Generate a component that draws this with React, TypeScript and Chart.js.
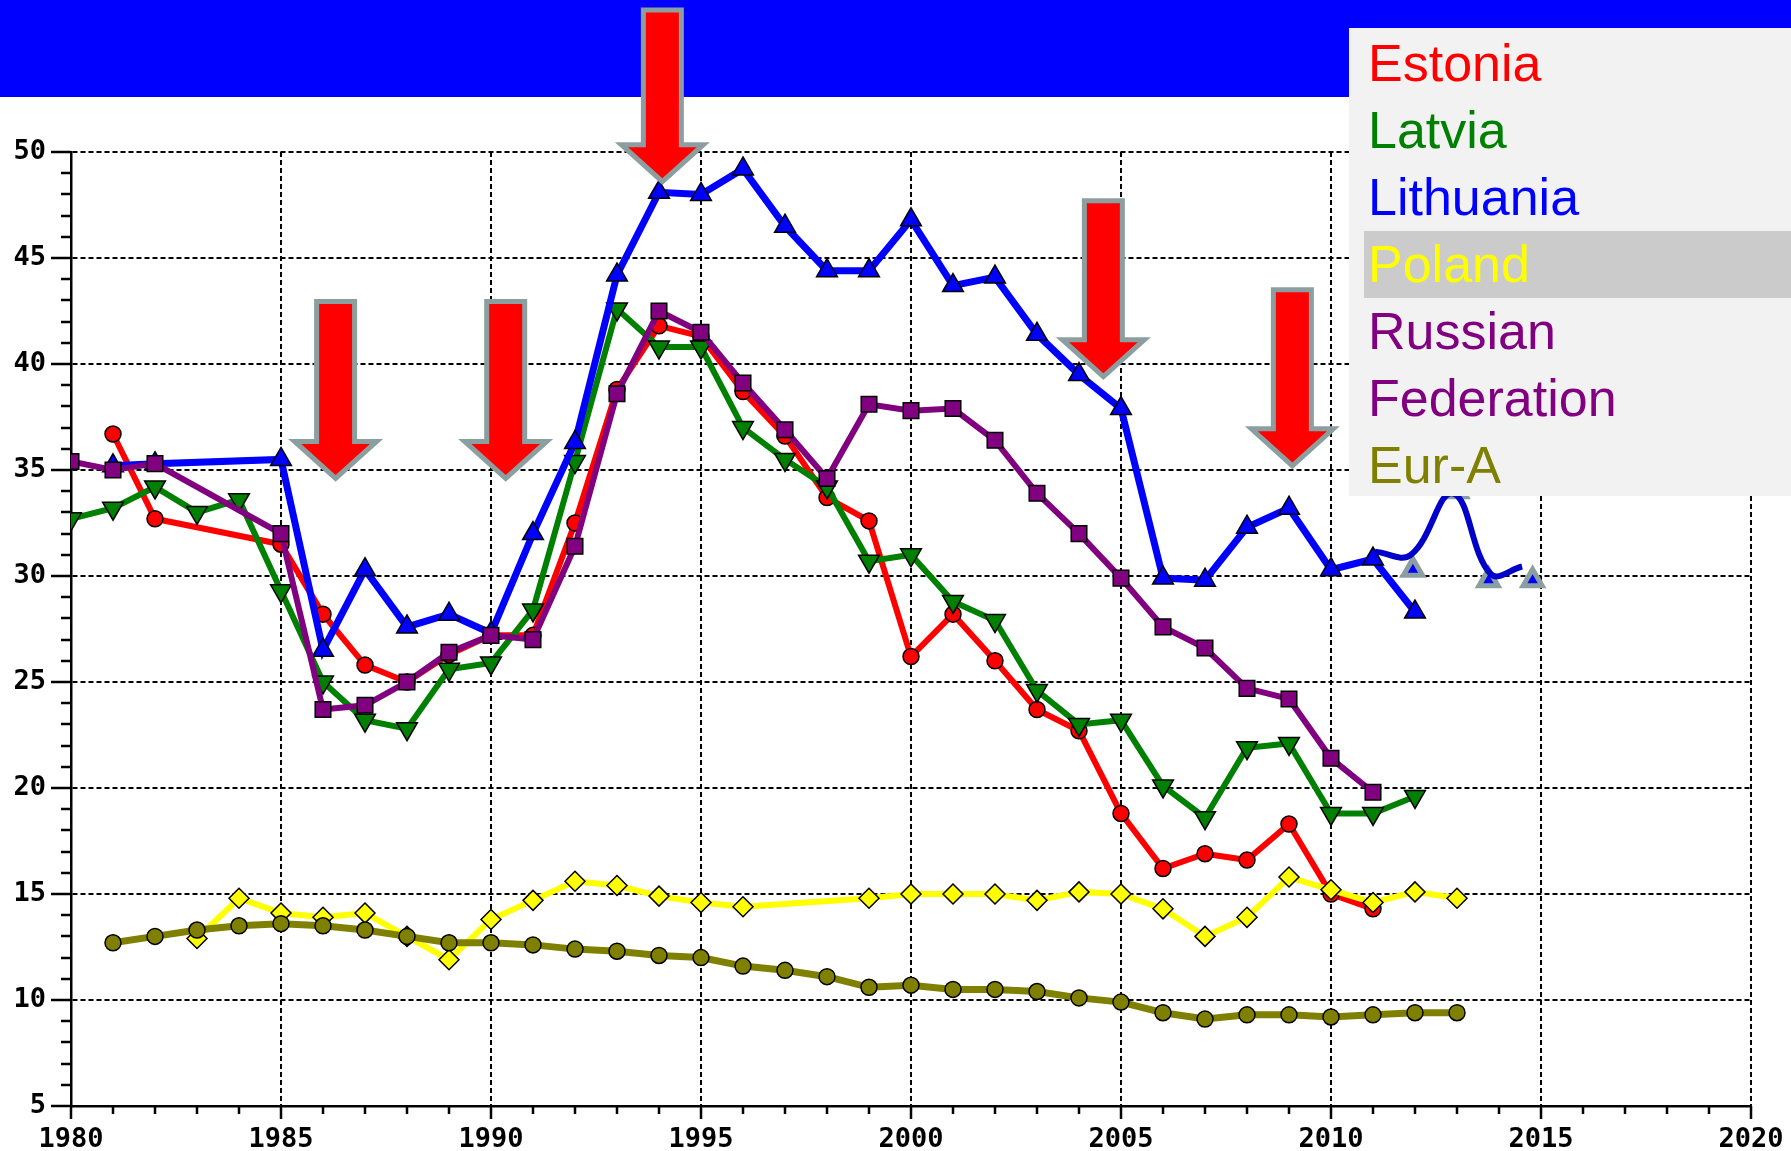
import React, { useEffect, useRef } from 'react';
import { Chart, registerables } from 'chart.js';

Chart.register(...registerables);

const YEARS = [
  1980, 1981, 1982, 1983, 1984, 1985, 1986, 1987, 1988, 1989,
  1990, 1991, 1992, 1993, 1994, 1995, 1996, 1997, 1998, 1999,
  2000, 2001, 2002, 2003, 2004, 2005, 2006, 2007, 2008, 2009,
  2010, 2011, 2012, 2013,
];

const ESTONIA = [
  null, 36.7, 32.7, null, null, 31.5, 28.2, 25.8, 25.0, 26.3,
  27.2, 27.2, 32.5, 38.8, 41.8, 41.3, 38.7, 36.6, 33.7, 32.6,
  26.2, 28.2, 26.0, 23.7, 22.7, 18.8, 16.2, 16.9, 16.6, 18.3,
  15.0, 14.3, null, null,
];

const LATVIA = [
  32.7, 33.2, 34.2, 33.0, 33.6, 29.3, 25.0, 23.2, 22.8, 25.6,
  25.9, 28.4, 35.4, 42.6, 40.8, 40.8, 37.0, 35.5, 34.2, 30.7,
  31.0, 28.8, 27.9, 24.6, 23.0, 23.2, 20.1, 18.6, 21.9, 22.1,
  18.8, 18.8, 19.6, null,
];

const LITHUANIA = [
  null, 35.2, 35.3, null, null, 35.5, 26.5, 30.3, 27.6, 28.2,
  27.3, 32.0, 36.3, 44.2, 48.1, 48.0, 49.2, 46.5, 44.4, 44.4,
  46.8, 43.7, 44.1, 41.4, 39.5, 37.9, 29.9, 29.8, 32.3, 33.2,
  30.3, 30.8, 28.3, null,
];

const POLAND = [
  null, null, null, 12.9, 14.8, 14.1, 13.9, 14.1, 13.0, 11.9,
  13.8, 14.7, 15.6, 15.4, 14.9, 14.6, 14.4, null, null, 14.8,
  15.0, 15.0, 15.0, 14.7, 15.1, 15.0, 14.3, 13.0, 13.9, 15.8,
  15.2, 14.6, 15.1, 14.8,
];

const RUSSIA = [
  35.4, 35.0, 35.3, null, null, 32.0, 23.7, 23.9, 25.0, 26.4,
  27.2, 27.0, 31.4, 38.6, 42.5, 41.5, 39.1, 36.9, 34.6, 38.1,
  37.8, 37.9, 36.4, 33.9, 32.0, 29.9, 27.6, 26.6, 24.7, 24.2,
  21.4, 19.8, null, null,
];

const EUR_A = [
  null, 12.7, 13.0, 13.3, 13.5, 13.6, 13.5, 13.3, 13.0, 12.7,
  12.7, 12.6, 12.4, 12.3, 12.1, 12.0, 11.6, 11.4, 11.1, 10.6,
  10.7, 10.5, 10.5, 10.4, 10.1, 9.9, 9.4, 9.1, 9.3, 9.3,
  9.2, 9.3, 9.4, 9.4,
];

// hand-drawn projection curve and ghost markers (Lithuania)
const CURVE_X = [2011.05, 2011.9, 2012.9, 2013.8, 2014.55];
const CURVE_Y = [31.15, 31.0, 33.9, 30.1, 30.45];
const GHOST_X = [2011.95, 2013.0, 2013.75, 2014.8];
const GHOST_Y = [30.3, 34.0, 29.8, 29.8];

// red arrow annotations (x = year, tip/top = value)
const ARROW_X = [1986.3, 1990.35, 1994.08, 2004.58, 2009.08];
const ARROW_TIP = [34.6, 34.6, 48.6, 39.4, 35.2];
const ARROW_TOP = [42.95, 42.95, 56.7, 47.7, 43.5];

const LEGEND_LABELS = ['Estonia', 'Latvia', 'Lithuania', 'Poland', 'Russian', 'Federation', 'Eur-A'];
const LEGEND_COLORS = ['#ff0000', '#008000', '#0000ff', '#ffff00', '#800080', '#800080', '#808000'];

const X_MIN = 1980;
const X_MAX = 2020;
const Y_MIN = 5;
const Y_MAX = 50;

function toPoints(values: (number | null)[]) {
  return YEARS.map((yr, i) => ({ x: yr, y: values[i] }));
}

function zip(xs: number[], ys: number[]) {
  return xs.map((x, i) => ({ x, y: ys[i] }));
}

const ticksPlugin = {
  id: 'customTicks',
  afterDraw(chart: any) {
    const { ctx, scales, chartArea } = chart;
    const xs = scales.x;
    const ys = scales.y;
    ctx.save();
    ctx.strokeStyle = '#000';
    ctx.lineWidth = 2.5;
    ctx.beginPath();
    for (let v = Y_MIN; v <= Y_MAX; v++) {
      const py = Math.round(ys.getPixelForValue(v));
      const len = v % 5 === 0 ? 20 : 10;
      ctx.moveTo(chartArea.left, py);
      ctx.lineTo(chartArea.left - len, py);
    }
    for (let v = X_MIN; v <= X_MAX; v++) {
      const px = Math.round(xs.getPixelForValue(v));
      const len = v % 5 === 0 ? 13 : 8;
      ctx.moveTo(px, chartArea.bottom);
      ctx.lineTo(px, chartArea.bottom + len);
    }
    ctx.stroke();
    ctx.restore();
  },
};

const arrowPlugin = {
  id: 'arrows',
  afterDatasetsDraw(chart: any) {
    const { ctx, scales } = chart;
    const xs = scales.x;
    const ys = scales.y;
    ctx.save();
    ARROW_X.forEach((ax, i) => {
      const cx = xs.getPixelForValue(ax);
      const tipY = ys.getPixelForValue(ARROW_TIP[i]);
      const topY = ys.getPixelForValue(ARROW_TOP[i]);
      const sw = 19;
      const hw = 41;
      const hh = 37;
      ctx.beginPath();
      ctx.moveTo(cx - sw, topY);
      ctx.lineTo(cx + sw, topY);
      ctx.lineTo(cx + sw, tipY - hh);
      ctx.lineTo(cx + hw, tipY - hh);
      ctx.lineTo(cx, tipY);
      ctx.lineTo(cx - hw, tipY - hh);
      ctx.lineTo(cx - sw, tipY - hh);
      ctx.closePath();
      ctx.fillStyle = '#ff0000';
      ctx.fill();
      ctx.lineWidth = 5;
      ctx.lineJoin = 'miter';
      ctx.strokeStyle = '#8c9fa0';
      ctx.stroke();
    });
    ctx.restore();
  },
};

function series(label: string, values: (number | null)[], color: string, style: string, radius: number, order: number, width: number, rotation = 0) {
  return {
    label,
    data: toPoints(values),
    borderColor: color,
    backgroundColor: color,
    borderWidth: width,
    pointStyle: style,
    pointRadius: radius,
    pointRotation: rotation,
    pointBackgroundColor: color,
    pointBorderColor: '#000',
    pointBorderWidth: 1.5,
    spanGaps: true,
    tension: 0,
    order,
  };
}

export default function App() {
  const canvasRef = useRef<HTMLCanvasElement | null>(null);

  useEffect(() => {
    document.body.style.overflow = 'hidden';
    const canvas = canvasRef.current;
    if (!canvas) return;
    const tickFont = { family: '"DejaVu Sans Mono", monospace', size: 27, weight: 'bold' as const };
    const chart = new Chart(canvas, {
      type: 'line',
      data: {
        datasets: [
          {
            label: 'proj',
            data: zip(CURVE_X, CURVE_Y),
            borderColor: '#0000c8',
            borderWidth: 6,
            pointRadius: 0,
            tension: 0.4,
            fill: false,
            order: 0,
          } as any,
          {
            label: 'ghost',
            data: zip(GHOST_X, GHOST_Y),
            showLine: false,
            pointStyle: 'triangle',
            pointRadius: 11,
            pointBackgroundColor: '#0000ff',
            pointBorderColor: '#8c9fa0',
            pointBorderWidth: 5,
            order: 0,
          } as any,
          series('Russian Federation', RUSSIA, '#800080', 'rect', 11, 1, 6),
          series('Eur-A', EUR_A, '#808000', 'circle', 8, 2, 7),
          series('Poland', POLAND, '#ffff00', 'rectRot', 10, 3, 6),
          series('Lithuania', LITHUANIA, '#0000ff', 'triangle', 12, 4, 7),
          series('Latvia', LATVIA, '#008000', 'triangle', 12, 5, 6, 180),
          series('Estonia', ESTONIA, '#ff0000', 'circle', 8, 6, 6),
        ],
      },
      options: {
        animation: false,
        responsive: false,
        maintainAspectRatio: false,
        layout: { padding: { top: 152, right: 40, left: 0, bottom: 0 } },
        plugins: { legend: { display: false }, tooltip: { enabled: false } },
        scales: {
          x: {
            type: 'linear',
            min: X_MIN,
            max: X_MAX,
            afterFit: (s: any) => { s.height = 45; s.paddingLeft = 0; s.paddingRight = 0; },
            ticks: {
              stepSize: 5,
              padding: 18,
              color: '#000',
              font: tickFont,
              maxRotation: 0,
              callback: (v: any) => String(v),
            },
            grid: {
              drawTicks: false,
              color: '#000',
              lineWidth: 2,
            },
            border: { display: true, color: '#000', width: 2.5, dash: [5, 3] },
          },
          y: {
            type: 'linear',
            min: Y_MIN,
            max: Y_MAX,
            afterFit: (s: any) => { s.width = 71; s.paddingTop = 0; s.paddingBottom = 0; },
            ticks: {
              stepSize: 5,
              padding: 25,
              color: '#000',
              font: tickFont,
              callback: (v: any) => String(v),
            },
            grid: {
              drawTicks: false,
              color: '#000',
              lineWidth: 2,
            },
            border: { display: true, color: '#000', width: 2.5, dash: [5, 3] },
          },
        },
      } as any,
      plugins: [ticksPlugin, arrowPlugin],
    });
    return () => chart.destroy();
  }, []);

  return (
    <div style={{ position: 'absolute', left: 0, top: 0, width: 1791, height: 1151, overflow: 'hidden', background: '#fff' }}>
      <div style={{ position: 'absolute', left: 0, top: 0, width: 1791, height: 97, background: '#0000ff', zIndex: 1 }} />
      <canvas ref={canvasRef} width={1791} height={1151} style={{ position: 'absolute', left: 0, top: 0, width: 1791, height: 1151, zIndex: 2 }} />
      <div style={{ position: 'absolute', left: 1349, top: 28, width: 442, height: 468, background: '#f2f2f2', zIndex: 3 }}>
        {LEGEND_LABELS.map((lab, i) => (
          <div
            key={lab}
            style={{
              position: 'absolute',
              left: 15,
              right: 0,
              top: 1.5 + i * 67,
              height: 67,
              lineHeight: '67px',
              paddingLeft: 4,
              fontFamily: '"Liberation Sans", Arial, sans-serif',
              fontSize: 52,
              color: LEGEND_COLORS[i],
              background: lab === 'Poland' ? '#cbcbcb' : 'transparent',
              whiteSpace: 'nowrap',
            }}
          >
            {lab}
          </div>
        ))}
      </div>
    </div>
  );
}
